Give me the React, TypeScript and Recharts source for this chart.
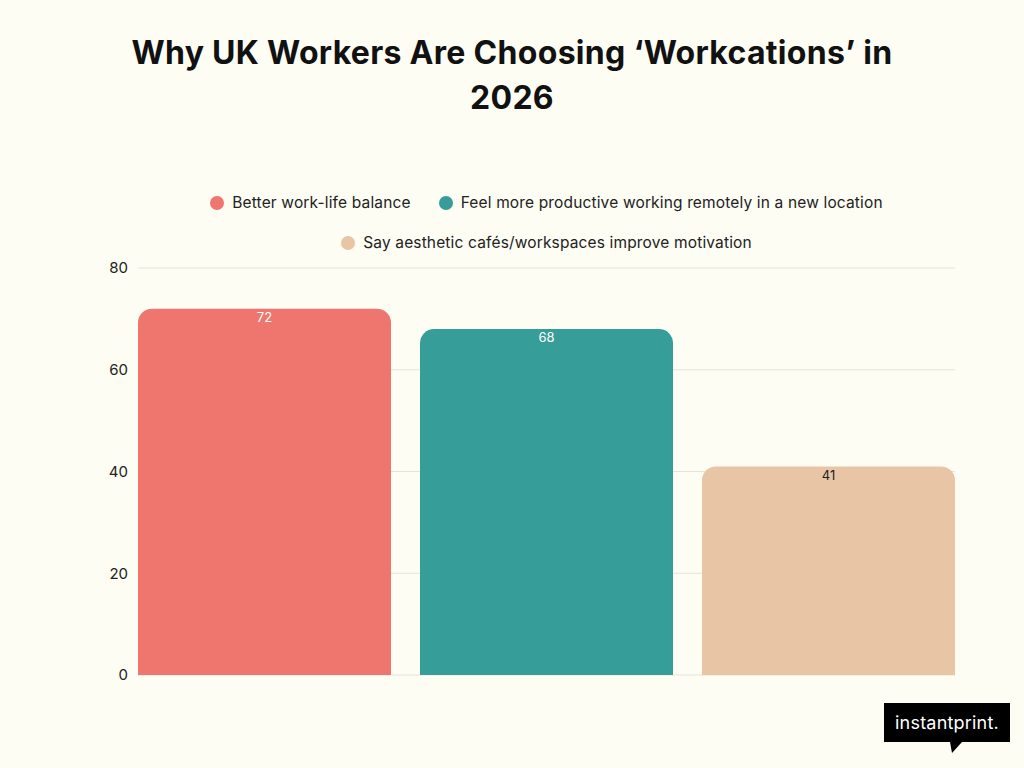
import React from "react";
import { BarChart, Bar, XAxis, YAxis, CartesianGrid, LabelList } from "recharts";

// Chart data
const categories = ["2026"];
const balanceValues = [72];
const productiveValues = [68];
const aestheticValues = [41];
const yTicks = [0, 20, 40, 60, 80];

const series = [
  { key: "balance", name: "Better work-life balance", color: "#ee766f", labelColor: "#ffffff", values: balanceValues },
  { key: "productive", name: "Feel more productive working remotely in a new location", color: "#369d98", labelColor: "#ffffff", values: productiveValues },
  { key: "aesthetic", name: "Say aesthetic cafés/workspaces improve motivation", color: "#e8c5a5", labelColor: "#1f1f1f", values: aestheticValues },
];

const data = categories.map((c, i) => {
  const row: Record<string, string | number> = { category: c };
  series.forEach((s) => (row[s.key] = s.values[i]));
  return row;
});

const FONT = "Inter, 'Noto Sans', sans-serif";
const BG = "#fdfdf4";

const LegendItem: React.FC<{ color: string; label: string }> = ({ color, label }) => (
  <span style={{ display: "inline-flex", alignItems: "center", margin: "0 14px" }}>
    <span style={{ width: 14, height: 14, borderRadius: "50%", background: color, marginRight: 8 }} />
    <span>{label}</span>
  </span>
);

const App: React.FC = () => {
  return (
    <div
      style={{
        position: "absolute",
        left: 0,
        top: 0,
        width: 1024,
        height: 768,
        background: BG,
        fontFamily: FONT,
        color: "#1f1f1f",
        overflow: "hidden",
      }}
    >
      {/* Title */}
      <div
        style={{
          position: "absolute",
          top: 30,
          left: 0,
          width: 1024,
          textAlign: "center",
          fontSize: 32,
          fontWeight: 700,
          lineHeight: "45px",
          letterSpacing: 0.3,
          color: "#111",
        }}
      >
        Why UK Workers Are Choosing ‘Workcations’ in
        <br />
        2026
      </div>

      {/* Legend */}
      <div
        style={{
          position: "absolute",
          top: 192,
          left: 138,
          width: 817,
          textAlign: "center",
          fontSize: 15.5,
          lineHeight: "22px",
          letterSpacing: 0.15,
          color: "#222",
        }}
      >
        <div>
          <LegendItem color={series[0].color} label={series[0].name} />
          <LegendItem color={series[1].color} label={series[1].name} />
        </div>
        <div style={{ marginTop: 16 }}>
          <LegendItem color={series[2].color} label={series[2].name} />
        </div>
      </div>

      {/* Chart */}
      <div style={{ position: "absolute", left: 0, top: 0 }}>
        <BarChart
          width={1024}
          height={768}
          data={data}
          margin={{ top: 268, right: 69, bottom: 93, left: 78 }}
          barCategoryGap={0}
          barGap={29}
        >
          <CartesianGrid vertical={false} stroke="#e4e4da" />
          <XAxis dataKey="category" hide />
          <YAxis
            width={60}
            domain={[0, 80]}
            ticks={yTicks}
            axisLine={false}
            tickLine={false}
            tick={{ fill: "#222", fontSize: 15, fontFamily: FONT, dx: -2 }}
          />
          {series.map((s) => (
            <Bar
              key={s.key}
              dataKey={s.key}
              name={s.name}
              fill={s.color}
              radius={[14, 14, 0, 0]}
              isAnimationActive={false}
            >
              <LabelList
                dataKey={s.key}
                position="insideTop"
                offset={4}
                fill={s.labelColor}
                fontSize={13}
                fontFamily={FONT}
              />
            </Bar>
          ))}
        </BarChart>
      </div>

      {/* Logo */}
      <div style={{ position: "absolute", left: 884, top: 703 }}>
        <div
          style={{
            width: 126,
            height: 39,
            background: "#000",
            color: "#fff",
            fontSize: 18,
            lineHeight: "39px",
            textAlign: "center",
            letterSpacing: 0.2,
          }}
        >
          instantprint.
        </div>
        <svg width={126} height={12} style={{ display: "block" }}>
          <polygon points="66,0 78,0 68,11" fill="#000" />
        </svg>
      </div>
    </div>
  );
};

export default App;
